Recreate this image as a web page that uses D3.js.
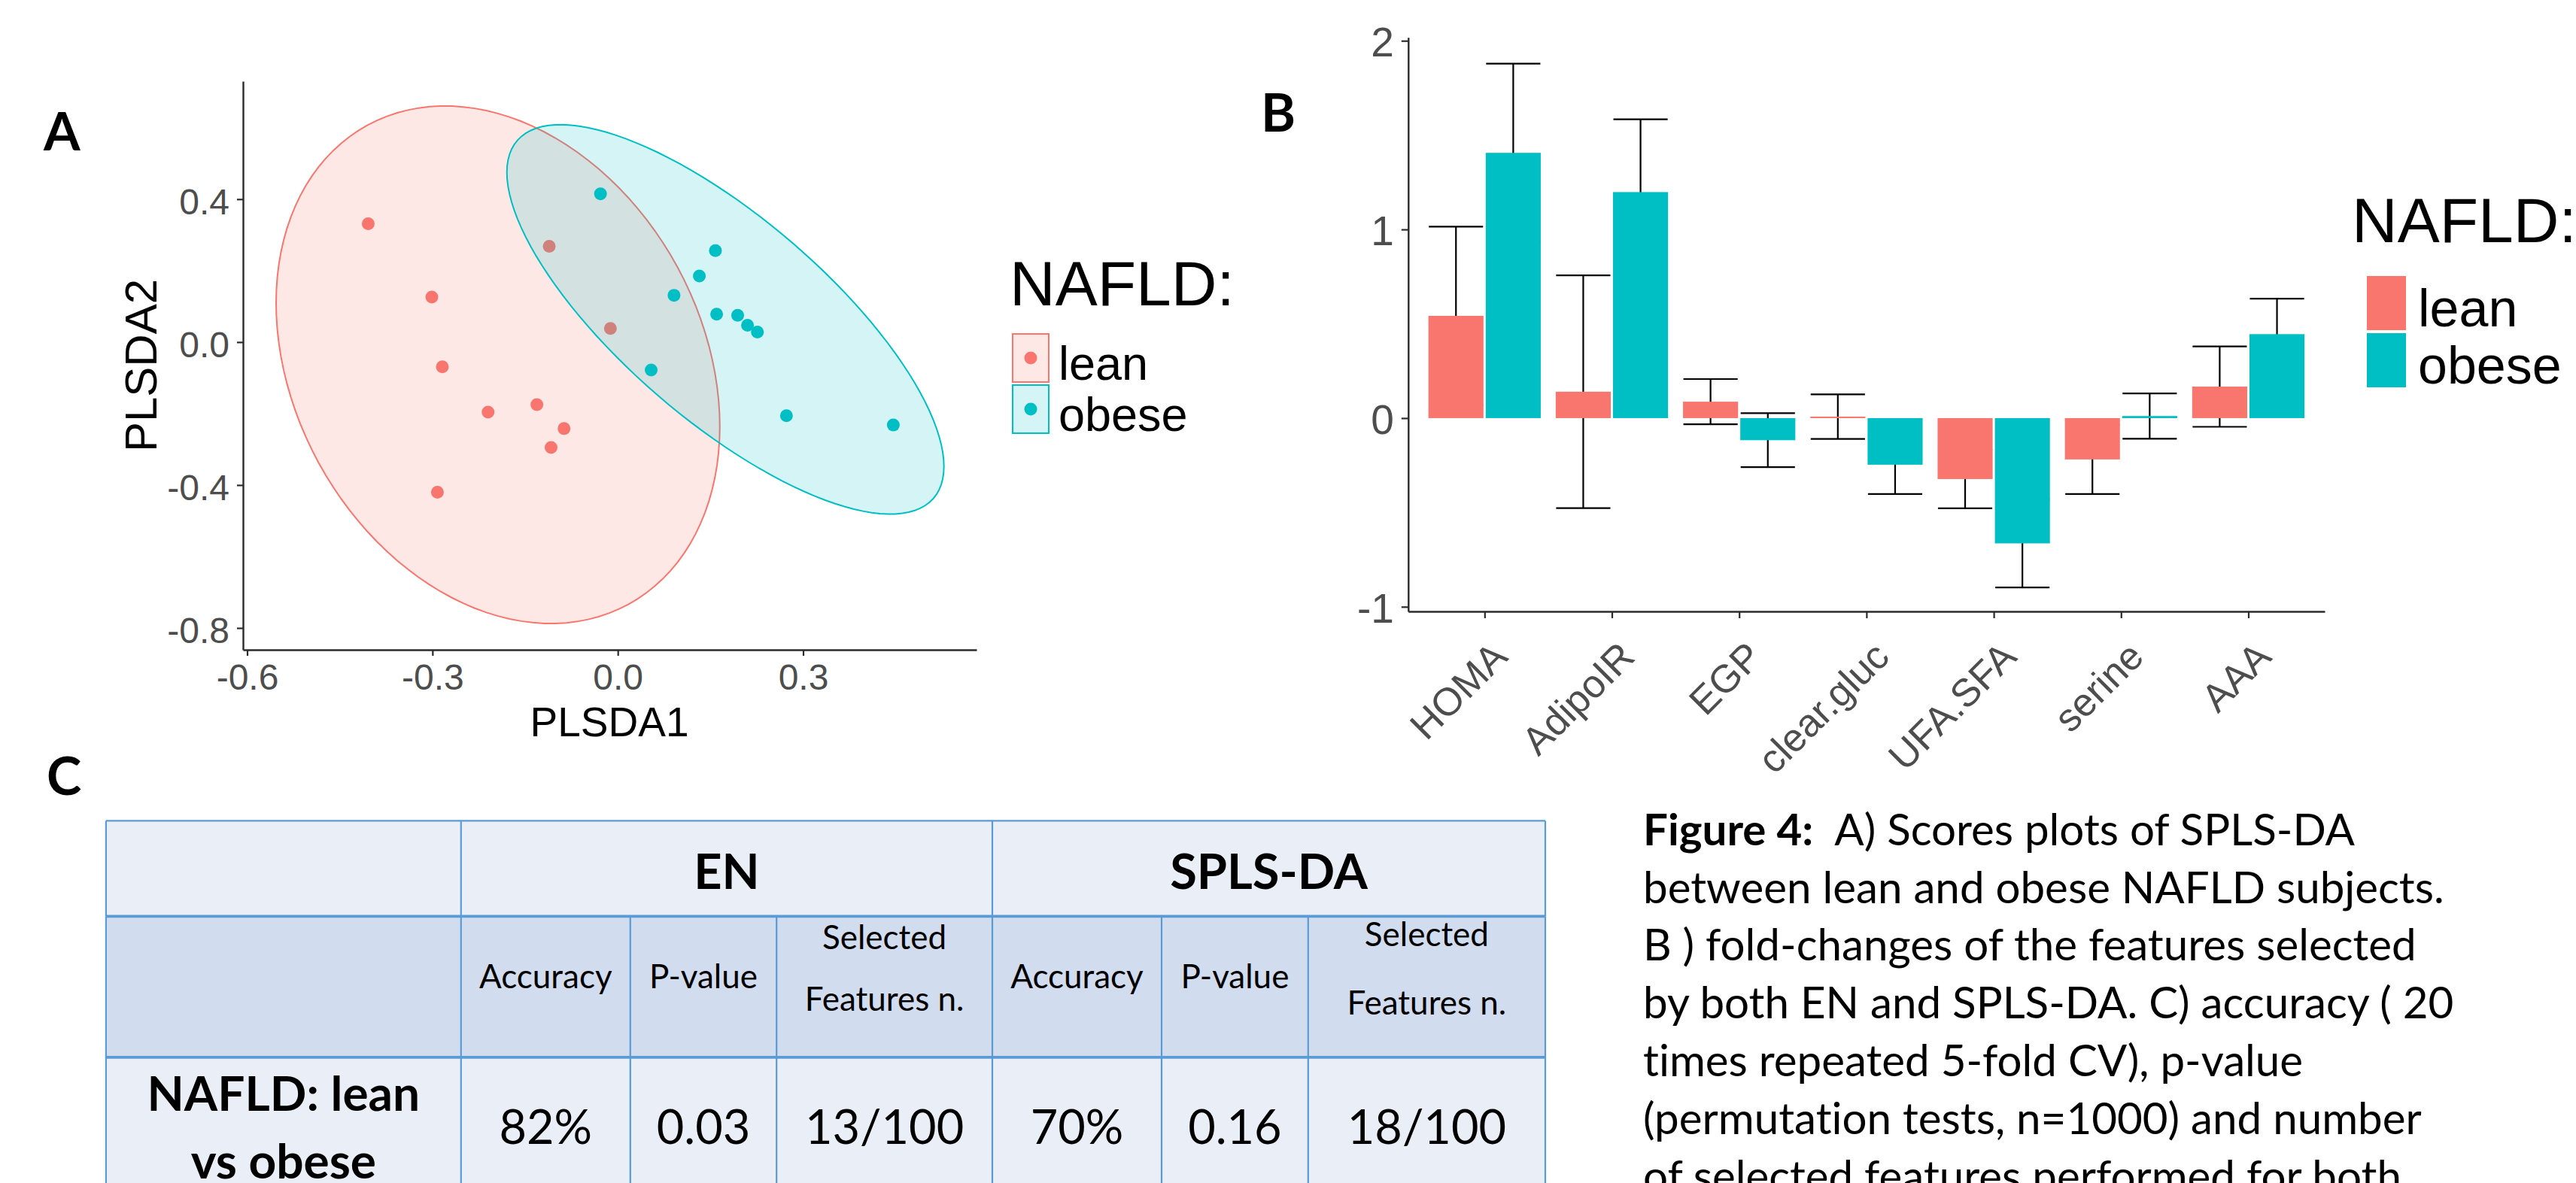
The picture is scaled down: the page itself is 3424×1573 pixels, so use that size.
<!DOCTYPE html>
<html>
<head>
<meta charset="utf-8">
<script src="https://cdn.jsdelivr.net/npm/d3@7"></script>
<style>
  body { margin: 0; background: #fff; }
  svg { display: block; }
  text { font-variant-ligatures: none; }
</style>
</head>
<body>
<svg id="fig" width="3424" height="1573"></svg>
<script>
// ---- data ----
var groups = ['lean', 'obese'];
var groupColors = ['#F8766D', '#00BFC4'];

// panel A: SPLS-DA scores
var leanPC1 = [-0.404, -0.301, -0.284, -0.210, -0.131, -0.087, -0.108, -0.292, -0.111, -0.012];
var leanPC2 = [0.331, 0.126, -0.069, -0.196, -0.175, -0.242, -0.295, -0.420, 0.268, 0.038];
var obesePC1 = [-0.028, 0.158, 0.132, 0.091, 0.160, 0.194, 0.210, 0.226, 0.054, 0.273, 0.446];
var obesePC2 = [0.415, 0.256, 0.185, 0.131, 0.078, 0.075, 0.047, 0.028, -0.078, -0.206, -0.232];
var scoreTicksX = [-0.6, -0.3, 0, 0.3];
var scoreTicksY = [-0.8, -0.4, 0, 0.4];

// panel B: fold changes (mean and half error bar)
var features = ['HOMA', 'AdipoIR', 'EGP', 'clear.gluc', 'UFA.SFA', 'serine', 'AAA'];
var leanFC = [0.542, 0.140, 0.087, 0.008, -0.323, -0.219, 0.167];
var leanSE = [0.473, 0.617, 0.120, 0.118, 0.155, 0.183, 0.213];
var obeseFC = [1.406, 1.198, -0.117, -0.247, -0.664, 0.011, 0.445];
var obeseSE = [0.473, 0.386, 0.143, 0.155, 0.234, 0.120, 0.188];
var foldTicks = [-1, 0, 1, 2];

// panel C: table
var methods = ['EN', 'SPLS-DA'];
var metrics = [['Accuracy'], ['P-value'], ['Selected', 'Features n.']];
var rowLabel = ['NAFLD: lean', 'vs obese'];
var enValues = ['82%', '0.03', '13/100'];
var splsValues = ['70%', '0.16', '18/100'];

var captionBold = 'Figure 4:';
var captionLines = [
    '  A) Scores plots of SPLS-DA',
    'between lean and obese NAFLD subjects.',
    'B ) fold-changes of the features selected',
    'by both EN and SPLS-DA. C) accuracy ( 20',
    'times repeated 5-fold CV), p-value',
    '(permutation tests, n=1000) and number',
    'of selected features performed for both'
];

var ARIAL = "'Liberation Sans', Arial, sans-serif",
    CALIBRI = "Lato, 'Open Sans', sans-serif",
    TICK_GREY = '#4D4D4D',
    AXIS_LINE = '#2B2B2B',
    TABLE_LINE = '#5B9BD5';

var svg = d3.select('#fig');
svg.append('rect').attr('width', 3424).attr('height', 1573).attr('fill', '#fff');

function styleAxis(g, size) {
    g.attr('font-family', ARIAL).attr('font-size', size);
    g.select('.domain').attr('stroke', AXIS_LINE).attr('stroke-width', 2.4);
    g.selectAll('.tick line').attr('stroke', AXIS_LINE).attr('stroke-width', 2.2);
    g.selectAll('.tick text').attr('fill', TICK_GREY);
}

// panel letters
[['A', 58, 200], ['B', 1676, 175], ['C', 62, 1057]].forEach(function(p) {
    svg.append('text').text(p[0])
        .attr('x', p[1]).attr('y', p[2])
        .attr('font-family', CALIBRI).attr('font-weight', 'bold')
        .attr('font-size', 70).attr('fill', '#000');
});

// ================= panel A =================
var ax = d3.scaleLinear().domain([-0.6067, 0.5807]).range([323, 1298]);
var ay = d3.scaleLinear().domain([-0.861, 0.730]).range([864, 108]);

// confidence ellipse (t-based, 95%) from the group covariance
function ellipse(xs, ys, level, nSeg) {
    var n = xs.length,
        mx = d3.mean(xs), my = d3.mean(ys),
        sxx = d3.variance(xs), syy = d3.variance(ys),
        sxy = d3.sum(xs, function(x, i) { return (x - mx) * (ys[i] - my); }) / (n - 1),
        d = n - 1,
        f = d / 2 * (Math.pow(1 - level, -2 / d) - 1),   // qf(level, 2, d)
        r = Math.sqrt(2 * f),
        a = Math.sqrt(sxx), b = sxy / a, c = Math.sqrt(syy - b * b);
    return d3.range(nSeg).map(function(k) {
        var t = 2 * Math.PI * k / nSeg;
        return [mx + r * a * Math.cos(t), my + r * (b * Math.cos(t) + c * Math.sin(t))];
    });
}

var scores = [
    {xs: leanPC1, ys: leanPC2},
    {xs: obesePC1, ys: obesePC2}
];
var ellLine = d3.line()
    .x(function(d) { return ax(d[0]); })
    .y(function(d) { return ay(d[1]); })
    .curve(d3.curveLinearClosed);

var plotA = svg.append('g');
scores.forEach(function(s, gi) {
    plotA.append('path')
        .attr('d', ellLine(ellipse(s.xs, s.ys, 0.95, 120)))
        .attr('fill', groupColors[gi]).attr('fill-opacity', 0.17)
        .attr('stroke', groupColors[gi]).attr('stroke-width', 2);
    plotA.selectAll('circle.g' + gi)
        .data(d3.zip(s.xs, s.ys))
        .enter().append('circle')
        .attr('class', 'g' + gi)
        .attr('cx', function(d) { return ax(d[0]); })
        .attr('cy', function(d) { return ay(d[1]); })
        .attr('r', 8.5)
        .attr('fill', groupColors[gi]);
});

var axA = svg.append('g').attr('transform', 'translate(0,864)')
    .call(d3.axisBottom(ax).tickValues(scoreTicksX).tickSize(8).tickSizeOuter(0)
        .tickPadding(11).tickFormat(function(d) { return d.toFixed(1); }));
styleAxis(axA, 48);
var ayA = svg.append('g').attr('transform', 'translate(323,0)')
    .call(d3.axisLeft(ay).tickValues(scoreTicksY).tickSize(8).tickSizeOuter(0)
        .tickPadding(10).tickFormat(function(d) { return d.toFixed(1); }));
styleAxis(ayA, 48);
ayA.selectAll('.tick text').attr('dy', '0.4em');

svg.append('text').text('PLSDA1')
    .attr('x', 810).attr('y', 979)
    .attr('text-anchor', 'middle')
    .attr('font-family', ARIAL).attr('font-size', 55).attr('fill', '#000');
svg.append('text').text('PLSDA2')
    .attr('transform', 'translate(208,486) rotate(-90)')
    .attr('text-anchor', 'middle')
    .attr('font-family', ARIAL).attr('font-size', 60).attr('fill', '#000');

// legend A
var legA = svg.append('g');
legA.append('text').text('NAFLD:')
    .attr('x', 1342).attr('y', 406)
    .attr('font-family', ARIAL).attr('font-size', 84).attr('fill', '#000');
groups.forEach(function(name, gi) {
    var y0 = 444 + gi * 68;
    legA.append('rect')
        .attr('x', 1346).attr('y', y0).attr('width', 48).attr('height', 64)
        .attr('fill', groupColors[gi]).attr('fill-opacity', 0.17)
        .attr('stroke', groupColors[gi]).attr('stroke-width', 2);
    legA.append('circle')
        .attr('cx', 1370).attr('cy', y0 + 32).attr('r', 8.5)
        .attr('fill', groupColors[gi]);
    legA.append('text').text(name)
        .attr('x', 1407).attr('y', y0 + 61)
        .attr('font-family', ARIAL).attr('font-size', 63).attr('fill', '#000');
});

// ================= panel B =================
var bx = d3.scalePoint().domain(features).range([1871.8, 3090]).padding(0.6);
var by = d3.scaleLinear().domain([-1.0247, 2.018]).range([813, 49.7]);
var step = bx.step(),
    barW = 0.45 * step,
    gap = 4;

var bars = [];
features.forEach(function(f, i) {
    bars.push({f: f, g: 0, v: leanFC[i], se: leanSE[i]});
    bars.push({f: f, g: 1, v: obeseFC[i], se: obeseSE[i]});
});
function barCenter(d) { return bx(d.f) + (d.g - 0.5) * barW; }

var plotB = svg.append('g');
// error bars sit behind the bars
var eb = plotB.selectAll('g.err').data(bars).enter().append('g')
    .attr('class', 'err')
    .attr('stroke', '#000').attr('stroke-width', 2.2);
eb.append('line')
    .attr('x1', barCenter).attr('x2', barCenter)
    .attr('y1', function(d) { return by(d.v + d.se); })
    .attr('y2', function(d) { return by(d.v - d.se); });
[1, -1].forEach(function(sign) {
    eb.append('line')
        .attr('x1', function(d) { return barCenter(d) - (barW - gap) / 2; })
        .attr('x2', function(d) { return barCenter(d) + (barW - gap) / 2; })
        .attr('y1', function(d) { return by(d.v + sign * d.se); })
        .attr('y2', function(d) { return by(d.v + sign * d.se); });
});
plotB.selectAll('rect.bar').data(bars).enter().append('rect')
    .attr('class', 'bar')
    .attr('x', function(d) { return barCenter(d) - (barW - gap) / 2 - 0.5; })
    .attr('width', barW - gap + 1)
    .attr('y', function(d) { return by(Math.max(0, d.v)); })
    .attr('height', function(d) { return Math.abs(by(d.v) - by(0)); })
    .attr('fill', function(d) { return groupColors[d.g]; });

var axB = svg.append('g').attr('transform', 'translate(0,813)')
    .call(d3.axisBottom(bx).tickSize(9).tickSizeOuter(0).tickFormat(''));
styleAxis(axB, 52);
var ayB = svg.append('g').attr('transform', 'translate(1871.8,0)')
    .call(d3.axisLeft(by).tickValues(foldTicks).tickSize(9).tickSizeOuter(0)
        .tickPadding(10).tickFormat(function(d) { return String(d); }));
styleAxis(ayB, 55);
ayB.selectAll('.tick text').attr('dy', '0.37em');

svg.append('g').selectAll('text').data(features).enter().append('text')
    .text(function(d) { return d; })
    .attr('transform', function(d) { return 'translate(' + (bx(d) + 33) + ',876) rotate(-45)'; })
    .attr('text-anchor', 'end')
    .attr('font-family', ARIAL).attr('font-size', 52).attr('fill', TICK_GREY);

// legend B
var legB = svg.append('g');
legB.append('text').text('NAFLD:')
    .attr('x', 3126).attr('y', 322)
    .attr('font-family', ARIAL).attr('font-size', 84).attr('fill', '#000');
groups.forEach(function(name, gi) {
    var y0 = 367 + gi * 76;
    legB.append('rect')
        .attr('x', 3146).attr('y', y0).attr('width', 52).attr('height', 72)
        .attr('fill', groupColors[gi]);
    legB.append('text').text(name)
        .attr('x', 3214).attr('y', y0 + 67)
        .attr('font-family', ARIAL).attr('font-size', 70).attr('fill', '#000');
});

// ================= panel C: table =================
var colEdges = [140.9, 612.8, 837.8, 1032.2, 1319, 1544, 1738.8, 2054];
var rowEdges = [1091.4, 1218.4, 1405.9, 1680];
var rowFills = ['#E9EEF7', '#D1DCEE', '#E9EEF7'];
var tbl = svg.append('g');

rowFills.forEach(function(fill, r) {
    tbl.append('rect')
        .attr('x', colEdges[0]).attr('y', rowEdges[r])
        .attr('width', colEdges[7] - colEdges[0]).attr('height', rowEdges[r + 1] - rowEdges[r])
        .attr('fill', fill);
});
// vertical rules: row 1 only at the group borders
[0, 1, 4, 7].forEach(function(c) {
    tbl.append('line')
        .attr('x1', colEdges[c]).attr('x2', colEdges[c])
        .attr('y1', rowEdges[0]).attr('y2', rowEdges[1])
        .attr('stroke', TABLE_LINE).attr('stroke-width', 2.2);
});
colEdges.forEach(function(x) {
    tbl.append('line')
        .attr('x1', x).attr('x2', x)
        .attr('y1', rowEdges[1]).attr('y2', rowEdges[3])
        .attr('stroke', TABLE_LINE).attr('stroke-width', 2.2);
});
rowEdges.slice(0, 3).forEach(function(y, i) {
    tbl.append('line')
        .attr('x1', colEdges[0]).attr('x2', colEdges[7])
        .attr('y1', y).attr('y2', y)
        .attr('stroke', TABLE_LINE).attr('stroke-width', i === 0 ? 2.4 : 3.6);
});

function cellText(txt, cx, y, size, bold) {
    tbl.append('text').text(txt)
        .attr('x', cx).attr('y', y)
        .attr('text-anchor', 'middle')
        .attr('font-family', CALIBRI)
        .attr('font-weight', bold ? 'bold' : 'normal')
        .attr('font-size', size).attr('fill', '#000');
}

methods.forEach(function(m, mi) {
    var c0 = 1 + mi * 3,
        values = mi === 0 ? enValues : splsValues;
    cellText(m, (colEdges[c0] + colEdges[c0 + 3]) / 2, 1181.6, 65, true);
    metrics.forEach(function(lines, k) {
        var cx = (colEdges[c0 + k] + colEdges[c0 + k + 1]) / 2;
        if (lines.length === 1) {
            cellText(lines[0], cx, 1314, 44, false);
        } else {
            cellText(lines[0], cx, mi === 0 ? 1262 : 1258, 44, false);
            cellText(lines[1], cx, mi === 0 ? 1344 : 1349, 44, false);
        }
        cellText(values[k], cx, 1521, 63, false);
    });
});
rowLabel.forEach(function(t, i) {
    cellText(t, (colEdges[0] + colEdges[1]) / 2, 1477 + i * 89.5, 64, true);
});

// ================= caption =================
var cap = svg.append('g')
    .attr('font-family', CALIBRI).attr('fill', '#000');
var capSize = 57;
var capTexts = captionLines.map(function(line, i) {
    var t = cap.append('text')
        .attr('xml:space', 'preserve')
        .style('white-space', 'pre')
        .attr('x', 2184).attr('y', 1123.7 + i * 76.8)
        .attr('font-size', capSize);
    if (i === 0) {
        t.append('tspan').attr('font-weight', 'bold').text(captionBold);
    }
    t.append('tspan').text(line);
    return t;
});
// fit the font so the second line spans its measured width
var w2 = capTexts[1].node().getComputedTextLength();
if (w2 > 0) {
    capSize = capSize * 1065 / w2;
    capTexts.forEach(function(t) { t.attr('font-size', capSize); });
}
</script>
</body>
</html>
